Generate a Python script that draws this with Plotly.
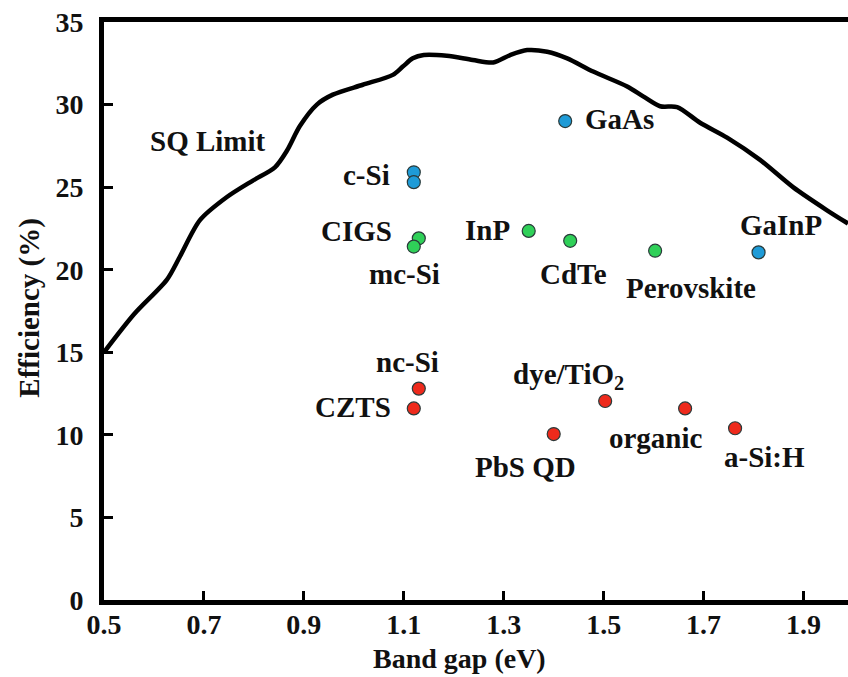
import plotly.graph_objects as go

# Shockley-Queisser detailed-balance limit
sq_gap = [0.50, 0.56, 0.626, 0.652, 0.692, 0.746, 0.798, 0.842, 0.866, 0.892, 0.926,
          0.958, 1.018, 1.078, 1.098, 1.118, 1.140, 1.186, 1.238, 1.279, 1.313,
          1.347, 1.387, 1.427, 1.479, 1.547, 1.579, 1.613, 1.647, 1.693, 1.747,
          1.813, 1.879, 1.947, 1.989]
sq_eff = [15.0, 17.3, 19.4, 20.8, 23.0, 24.4, 25.4, 26.2, 27.2, 28.7, 30.0,
          30.6, 31.2, 31.8, 32.3, 32.8, 33.0, 32.95, 32.7, 32.55, 33.0,
          33.3, 33.2, 32.8, 32.0, 31.1, 30.5, 29.9, 29.85, 28.9, 28.0,
          26.65, 25.0, 23.6, 22.8]

# Record cells: single-crystal (blue)
mono_names = ["GaAs", "c-Si", "", "GaInP"]
mono_gap = [1.423, 1.12, 1.12, 1.81]
mono_eff = [29.0, 25.9, 25.3, 21.05]

# Thin-film / polycrystalline (green)
thin_names = ["CIGS", "mc-Si", "InP", "CdTe", "Perovskite"]
thin_gap = [1.13, 1.12, 1.35, 1.433, 1.603]
thin_eff = [21.9, 21.4, 22.35, 21.75, 21.15]

# Emerging / low-efficiency (red)
emerg_names = ["nc-Si", "CZTS", "PbS QD", "dye/TiO<sub>2</sub>", "organic", "a-Si:H"]
emerg_gap = [1.13, 1.12, 1.40, 1.503, 1.663, 1.763]
emerg_eff = [12.8, 11.6, 10.05, 12.05, 11.6, 10.4]

x_ticks = [0.5, 0.7, 0.9, 1.1, 1.3, 1.5, 1.7, 1.9]
y_ticks = [0, 5, 10, 15, 20, 25, 30, 35]

FONT = "Liberation Serif"
TXT = dict(family=FONT, size=29, color="#111", weight="bold")

fig = go.Figure()
fig.add_trace(go.Scatter(x=sq_gap, y=sq_eff, mode="lines",
                         line=dict(color="black", width=4.5, shape="spline", smoothing=0.8),
                         hoverinfo="skip", showlegend=False))

def add_group(gx, gy, color):
    fig.add_trace(go.Scatter(x=gx, y=gy, mode="markers", showlegend=False,
                             marker=dict(size=13, color=color,
                                         line=dict(color="#2a3a3a", width=1.2))))

add_group(mono_gap, mono_eff, "#1e9bd7")
add_group(thin_gap, thin_eff, "#2fd058")
add_group(emerg_gap, emerg_eff, "#ee2a1c")

# label placement: (xanchor, xshift, yshift) per point, in pixels
mono_pos = [("left", 18, 2), ("right", -22, -3), None, ("center", 22, 27)]
thin_pos = [("right", -25, 7), ("center", -9, -27), ("right", -17, 1),
            ("center", 3, -33), ("center", 36, -37)]
emerg_pos = [("center", -11, 27), ("right", -21, 1), ("center", -28, -33),
             ("center", -37, 25), ("center", -29, -30), ("center", 29, -29)]

for names, gx, gy, pos in [(mono_names, mono_gap, mono_eff, mono_pos),
                           (thin_names, thin_gap, thin_eff, thin_pos),
                           (emerg_names, emerg_gap, emerg_eff, emerg_pos)]:
    for n, x, y, p in zip(names, gx, gy, pos):
        if not n or p is None:
            continue
        fig.add_annotation(x=x, y=y, text=n, showarrow=False, font=TXT,
                           xanchor=p[0], yanchor="middle", xshift=p[1], yshift=p[2])

fig.add_annotation(x=0.708, y=27.8, text="SQ Limit", showarrow=False, font=TXT,
                   xanchor="center", yanchor="middle")

# axis titles
fig.add_annotation(x=0.478, y=-0.101, xref="paper", yref="paper", text="Band gap (eV)",
                   showarrow=False, font=dict(TXT, size=28), xanchor="center",
                   yanchor="middle")
fig.add_annotation(x=-0.1, y=0.505, xref="paper", yref="paper", text="Efficiency (%)",
                   showarrow=False, font=TXT, textangle=-90,
                   xanchor="center", yanchor="middle")

axis_common = dict(showgrid=False, zeroline=False, showline=True, linecolor="black",
                   linewidth=5, ticks="inside", ticklen=9, tickwidth=3, tickcolor="black",
                   tickfont=dict(family=FONT, size=28, color="#111", weight="bold"))

fig.update_xaxes(range=[0.5, 1.989], tickvals=x_ticks,
                 ticktext=[f"{v:.1f}" for v in x_ticks], mirror=True,
                 ticklabelstandoff=-5, **axis_common)
fig.update_yaxes(range=[0, 35], tickvals=y_ticks, ticktext=[str(v) for v in y_ticks],
                 ticklabelstandoff=10, **axis_common)

fig.update_layout(width=848, height=677, margin=dict(l=104, r=0, t=22, b=77),
                  plot_bgcolor="white", paper_bgcolor="white")

fig.write_html("out.html")
